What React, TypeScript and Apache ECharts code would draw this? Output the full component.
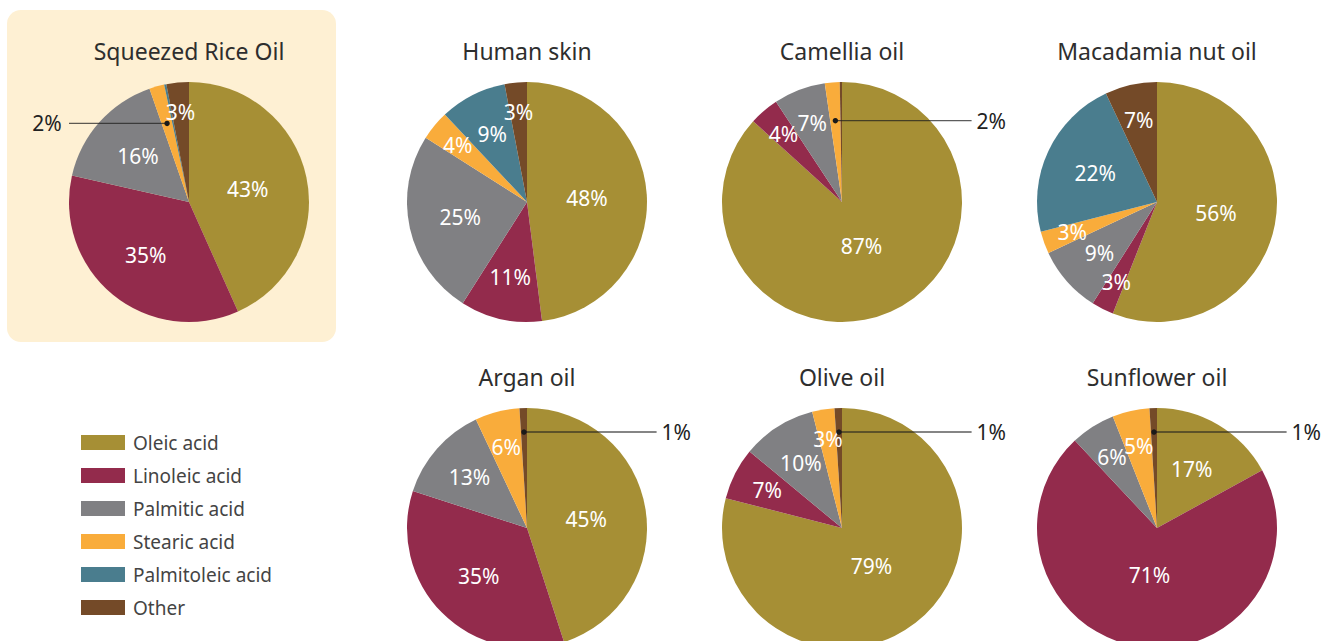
import { useEffect, useRef } from "react";
import * as echarts from "echarts";

// Fatty-acid categories and their colours
const acids = ["Oleic acid", "Linoleic acid", "Palmitic acid", "Stearic acid", "Palmitoleic acid", "Other"];
const acidColors = ["#A68F35", "#932B4C", "#808083", "#F9AC3B", "#4A7D8E", "#744A28"];

// Composition (%) per oil, in the order of `acids`
const riceOil = [43, 35, 16, 2, 0.3, 3];
const humanSkin = [48, 11, 25, 4, 9, 3];
const camelliaOil = [87, 4, 7, 2, 0, 0.3];
const macadamiaOil = [56, 3, 9, 3, 22, 7];
const arganOil = [45, 35, 13, 6, 0, 1];
const oliveOil = [79, 7, 10, 3, 0, 1];
const sunflowerOil = [17, 71, 6, 5, 0, 1];

const titles = ["Squeezed Rice Oil", "Human skin", "Camellia oil", "Macadamia nut oil", "Argan oil", "Olive oil", "Sunflower oil"];
const oils = [riceOil, humanSkin, camelliaOil, macadamiaOil, arganOil, oliveOil, sunflowerOil];

// Panel layout
const R = 120;
const panels = [
  { cx: 189, cy: 202, side: -1 },
  { cx: 527, cy: 202, side: 1 },
  { cx: 842, cy: 202, side: 1 },
  { cx: 1157, cy: 202, side: 1 },
  { cx: 527, cy: 528, side: 1 },
  { cx: 842, cy: 528, side: 1 },
  { cx: 1157, cy: 528, side: 1 },
];

const FONT = "'Noto Sans', 'Open Sans', sans-serif";
const isCallout = (v: number) => v >= 1 && v <= 2;

// Label distance from the centre, as a fraction of the radius
function labelFrac(v: number) {
  if (v >= 70) return 0.4;
  if (v >= 40) return 0.5;
  if (v >= 15) return 0.57;
  if (v >= 9) return 0.64;
  if (v >= 5) return 0.7;
  return 0.75;
}

function midAngle(values: number[], k: number) {
  const total = values.reduce((a, b) => a + b, 0);
  let before = 0;
  for (let i = 0; i < k; i++) before += values[i];
  return ((before + values[k] / 2) / total) * Math.PI * 2;
}

// Leader-line geometry for small slices whose label sits outside the pie
function calloutGeom(values: number[], k: number, p: { cx: number; cy: number; side: number }) {
  const a = midAngle(values, k);
  const f = values[k] < 1.5 ? 0.8 : 0.68;
  const dx = p.cx + Math.sin(a) * f * R;
  const dy = p.cy - Math.cos(a) * f * R;
  const endX = p.side < 0 ? p.cx - R * 1.0 : p.cx + R * 1.08;
  const textX = p.side < 0 ? p.cx - R * 1.06 : p.cx + R * 1.12;
  return { dx, dy, endX, textX };
}

export default function App() {
  const ref = useRef<HTMLDivElement>(null);

  useEffect(() => {
    if (!ref.current) return;
    const chart = echarts.init(ref.current, undefined, { renderer: "svg" });

    const series = oils.map((values, si) => {
      const p = panels[si];
      return {
        type: "pie",
        name: titles[si],
        center: [p.cx, p.cy],
        radius: R,
        startAngle: 90,
        clockwise: true,
        avoidLabelOverlap: false,
        silent: true,
        itemStyle: { borderWidth: 0 },
        label: {
          show: true,
          position: "inside",
          color: "#ffffff",
          fontSize: 21,
          fontFamily: FONT,
          formatter: (d: any) => `${Math.round(d.value)}%`,
        },
        labelLine: { show: false },
        data: values.map((v, k) => ({
          name: acids[k],
          value: v,
          itemStyle: { color: acidColors[k] },
          label: isCallout(v)
            ? { show: true, position: "inside", color: "#222222", fontSize: 21, fontFamily: FONT }
            : { show: v >= 1 },
        })),
        labelLayout: (lp: any) => {
          const k = lp.dataIndex;
          const v = values[k];
          if (isCallout(v)) {
            const g = calloutGeom(values, k, p);
            return {
              x: g.textX,
              y: g.dy,
              align: p.side < 0 ? "right" : "left",
              verticalAlign: "middle",
            };
          }
          const a = midAngle(values, k);
          const f = labelFrac(v);
          return {
            x: p.cx + Math.sin(a) * f * R,
            y: p.cy - Math.cos(a) * f * R,
            align: "center",
            verticalAlign: "middle",
          };
        },
      };
    });

    const graphics: any[] = [
      {
        type: "rect",
        z: -10,
        shape: { x: 7, y: 10, width: 329, height: 332, r: 14 },
        style: { fill: "#FEF0D3" },
      },
    ];
    titles.forEach((t, si) => {
      const p = panels[si];
      graphics.push({
        type: "text",
        z: 10,
        x: p.cx,
        y: p.cy - 151,
        style: {
          text: t,
          align: "center",
          verticalAlign: "middle",
          fontSize: 23,
          fontFamily: FONT,
          fill: "#2e2e2e",
        },
      });
    });
    // Leader lines and dots for labels drawn outside the pie
    oils.forEach((values, si) => {
      values.forEach((v, k) => {
        if (!isCallout(v)) return;
        const g = calloutGeom(values, k, panels[si]);
        graphics.push({
          type: "line",
          z: 100,
          shape: { x1: g.dx, y1: g.dy, x2: g.endX, y2: g.dy },
          style: { stroke: "rgba(30,30,30,0.72)", lineWidth: 1.4 },
        });
        graphics.push({
          type: "circle",
          z: 101,
          shape: { cx: g.dx, cy: g.dy, r: 2.7 },
          style: { fill: "#1a1a1a" },
        });
      });
    });

    chart.setOption({
      animation: false,
      backgroundColor: "#ffffff",
      legend: {
        orient: "vertical",
        left: 81,
        top: 433,
        padding: 0,
        itemWidth: 44,
        itemHeight: 15,
        itemGap: 14,
        icon: "rect",
        selectedMode: false,
        data: acids,
        textStyle: {
          fontSize: 19,
          fontFamily: FONT,
          color: "#444444",
          padding: [0, 0, 0, 3],
        },
      },
      graphic: graphics,
      series,
    });

    return () => chart.dispose();
  }, []);

  return (
    <div
      ref={ref}
      style={{ position: "absolute", left: 0, top: 0, width: 1333, height: 641 }}
    />
  );
}
